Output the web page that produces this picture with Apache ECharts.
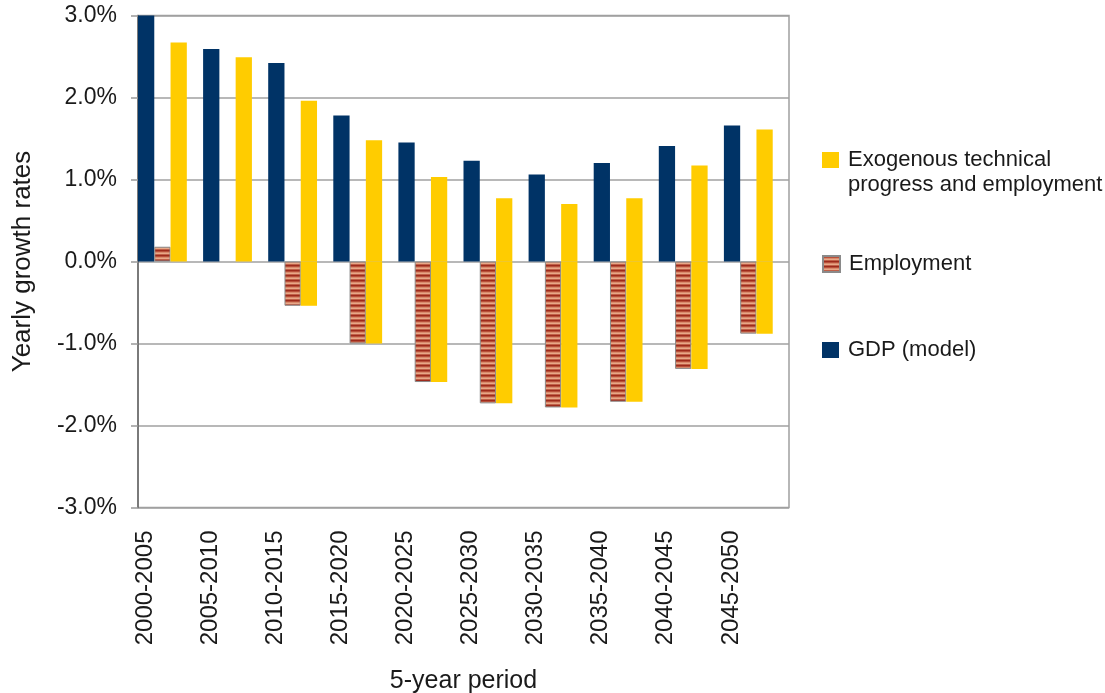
<!DOCTYPE html>
<html>
<head>
<meta charset="utf-8">
<script src="https://cdn.jsdelivr.net/npm/echarts@6/dist/echarts.min.js"></script>
<style>
html,body{margin:0;padding:0;background:#fff;}
#chart{width:1105px;height:693px;}
</style>
</head>
<body>
<div id="chart"></div>
<script>
const categories = ['2000-2005','2005-2010','2010-2015','2015-2020','2020-2025','2025-2030','2030-2035','2035-2040','2040-2045','2045-2050'];
const gdpModel = [3.0, 2.59, 2.42, 1.78, 1.45, 1.23, 1.06, 1.20, 1.41, 1.66];
const employment = [0.18, null, -0.54, -1.0, -1.47, -1.73, -1.78, -1.71, -1.31, -0.88];
const exoTechPositive = [2.67, 2.49, 1.96, 1.48, 1.03, 0.77, 0.70, 0.77, 1.17, 1.61];
const exoEmploymentNegative = [0, 0, -0.54, -1.0, -1.47, -1.73, -1.78, -1.71, -1.31, -0.88];
const yTickValues = [-3, -2, -1, 0, 1, 2, 3];

const FONT = '"Liberation Sans", Arial, sans-serif';
const EXO_NAME = 'Exogenous technical\nprogress and employment';

// striped pattern for Employment bars
const pc = document.createElement('canvas');
pc.width = 6; pc.height = 5;
const pctx = pc.getContext('2d');
const stripeColors = ['#9e2b1c', '#b8503a', '#d98a6c', '#e8a888', '#c06048'];
stripeColors.forEach((c, i) => { pctx.fillStyle = c; pctx.fillRect(0, i, 6, 1); });
const stripePattern = { image: pc, repeat: 'repeat' };

const chart = echarts.init(document.getElementById('chart'), null, { renderer: 'canvas' });

const legendText = { fontFamily: FONT, fontSize: 22, color: '#1a1a1a', lineHeight: 25, padding: [0, 0, 0, 4] };

const option = {
  animation: false,
  backgroundColor: '#ffffff',
  textStyle: { fontFamily: FONT, color: '#1a1a1a' },
  grid: {
    left: 138, right: 316, top: 15.5, bottom: 185.5,
    outerBoundsMode: 'none', containLabel: false,
    show: true, borderColor: '#a0a0a0', borderWidth: 1.5, backgroundColor: 'transparent'
  },
  legend: [
    {
      data: [EXO_NAME], orient: 'vertical', left: 822, top: 122.5, padding: 0,
      itemWidth: 17, itemHeight: 16, icon: 'rect', selectedMode: false,
      formatter: name => '\n' + name,
      textStyle: legendText
    },
    {
      data: ['Employment'], orient: 'vertical', left: 822, top: 251.5, padding: 0,
      itemWidth: 17, itemHeight: 16, icon: 'rect', selectedMode: false,
      textStyle: legendText
    },
    {
      data: ['GDP (model)'], orient: 'vertical', left: 822, top: 337.5, padding: 0,
      itemWidth: 17, itemHeight: 16, icon: 'rect', selectedMode: false,
      textStyle: legendText
    }
  ],
  xAxis: {
    type: 'category',
    data: categories,
    axisLine: { show: false, onZero: false },
    axisTick: { show: false },
    axisLabel: {
      rotate: 90, interval: 0, margin: 23, fontSize: 24, color: '#1a1a1a', fontFamily: FONT,
      verticalAlign: 'bottom', lineHeight: 51
    },
    name: '5-year period',
    nameLocation: 'middle',
    nameGap: 161,
    nameTextStyle: { fontSize: 25, color: '#1a1a1a', fontFamily: FONT }
  },
  yAxis: {
    type: 'value',
    min: yTickValues[0], max: yTickValues[yTickValues.length - 1], interval: 1,
    axisLine: { show: true, lineStyle: { color: '#666666', width: 1.5 } },
    axisTick: { show: true, length: 7, lineStyle: { color: '#999999', width: 1.5 } },
    splitLine: { show: true, lineStyle: { color: '#a0a0a0', width: 1.5 } },
    axisLabel: {
      margin: 21, fontSize: 23, color: '#1a1a1a', fontFamily: FONT,
      formatter: v => v.toFixed(1) + '%'
    },
    name: 'Yearly growth rates',
    nameLocation: 'middle',
    nameGap: 102,
    nameTextStyle: { fontSize: 26, color: '#1a1a1a', fontFamily: FONT }
  },
  series: [
    {
      name: 'GDP (model)', type: 'bar', data: gdpModel,
      itemStyle: { color: '#003366' },
      barGap: '0%', barCategoryGap: '0%'
    },
    {
      name: 'Employment', type: 'bar', data: employment,
      itemStyle: { color: stripePattern, borderColor: '#8a8a8a', borderWidth: 1 },
      barGap: '0%', barCategoryGap: '0%'
    },
    {
      name: EXO_NAME, type: 'bar', stack: 'exo', data: exoEmploymentNegative,
      itemStyle: { color: '#ffcc00' },
      barGap: '0%', barCategoryGap: '0%'
    },
    {
      name: EXO_NAME, type: 'bar', stack: 'exo', data: exoTechPositive,
      itemStyle: { color: '#ffcc00' },
      barGap: '0%', barCategoryGap: '0%'
    },
    {
      name: 'spacer', type: 'bar', data: categories.map(() => '-'), silent: true,
      itemStyle: { color: 'transparent' },
      barGap: '0%', barCategoryGap: '0%'
    }
  ]
};
chart.setOption(option);
</script>
</body>
</html>
